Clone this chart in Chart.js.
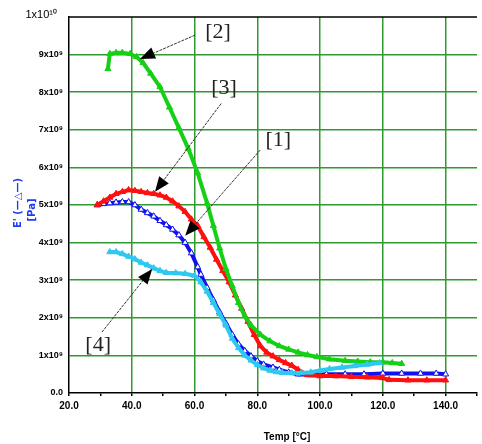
<!DOCTYPE html>
<html>
<head>
<meta charset="utf-8">
<script src="https://cdn.jsdelivr.net/npm/chart.js@4/dist/chart.umd.min.js"></script>
<style>
  html, body { margin: 0; padding: 0; background: #fff; }
  canvas { display: block; }
</style>
</head>
<body>
<canvas id="chart" width="482" height="444"></canvas>
<script>
// series: temperature [°C] and E' [x10^9 Pa]
const temp1 = [29, 31, 33, 35, 37, 39, 41, 43, 45, 47, 49, 51, 53, 55, 57, 59, 61, 62, 64, 66, 68, 70, 72, 74, 76, 78, 80, 82, 85, 87, 90, 93, 97, 102, 108, 114, 120, 126, 132, 137, 140];
const ePa1 = [5.0, 5.03, 5.05, 5.07, 5.08, 5.08, 5.0, 4.88, 4.79, 4.7, 4.58, 4.47, 4.35, 4.2, 4.0, 3.72, 3.35, 3.15, 2.8, 2.47, 2.15, 1.85, 1.55, 1.3, 1.12, 0.98, 0.85, 0.76, 0.68, 0.62, 0.55, 0.5, 0.48, 0.5, 0.5, 0.5, 0.52, 0.52, 0.52, 0.52, 0.5];

const temp2 = [32.4, 33, 35, 37, 39.5, 41.5, 43.6, 46, 49, 52, 55, 58, 61, 64, 66, 68, 70, 72, 74, 76, 78, 81, 84, 87, 90, 93, 96, 99, 103, 108, 112, 116, 120, 123, 126];
const ePa2 = [8.62, 9.02, 9.05, 9.05, 9.02, 8.94, 8.78, 8.5, 8.14, 7.6, 7.05, 6.5, 5.85, 5.05, 4.45, 3.85, 3.3, 2.85, 2.4, 2.05, 1.8, 1.55, 1.38, 1.25, 1.16, 1.08, 1.01, 0.96, 0.9, 0.86, 0.84, 0.82, 0.82, 0.8, 0.78];

const temp3 = [29, 31, 33, 35, 37, 39, 41, 43, 45, 47, 49, 51, 53, 55, 57, 59, 61, 63, 65, 67, 69, 71, 73, 75, 77, 79, 81, 83, 85, 87, 89, 91, 93, 96, 100, 105, 110, 115, 120, 122, 128, 134, 140];
const ePa3 = [5.0, 5.1, 5.2, 5.3, 5.35, 5.4, 5.38, 5.35, 5.32, 5.3, 5.26, 5.2, 5.1, 4.97, 4.82, 4.62, 4.45, 4.15, 3.87, 3.55, 3.25, 2.95, 2.6, 2.25, 1.9, 1.55, 1.25, 1.08, 0.98, 0.88, 0.8, 0.73, 0.62, 0.48, 0.45, 0.45, 0.43, 0.42, 0.4, 0.35, 0.34, 0.34, 0.34];

const temp4 = [33, 35, 37, 39, 41, 43, 45, 47, 49, 51, 54, 57, 60, 62, 64, 66, 68, 70, 72, 74, 76, 78, 80, 82, 84, 86, 88, 91, 94, 97, 100, 103, 107, 111, 115, 119];
const ePa4 = [3.75, 3.75, 3.7, 3.63, 3.56, 3.47, 3.4, 3.32, 3.25, 3.2, 3.19, 3.17, 3.12, 2.95, 2.7, 2.4, 2.1, 1.8, 1.45, 1.2, 1.0, 0.87, 0.75, 0.66, 0.6, 0.56, 0.54, 0.53, 0.53, 0.55, 0.6, 0.64, 0.68, 0.72, 0.76, 0.8];

const seriesNames = ['[1]', '[2]', '[3]', '[4]'];
const xTickValues = [20, 40, 60, 80, 100, 120, 140];

// annotation labels: text, label position, arrow tail, arrow tip (data units)
const labelText = ['[2]', '[3]', '[1]', '[4]'];
const labelAt = [[67.5, 9.6], [69.4, 8.1], [86.7, 6.73], [29.3, 1.28]];
const arrowFrom = [[60.2, 9.52], [68.5, 7.7], [80.9, 6.46], [30.5, 1.62]];
const arrowTo = [[42.6, 8.88], [47.4, 5.35], [57, 4.18], [46.5, 3.3]];

const GRID = '#2f9a2f';

function pairs(xs, ys) {
  return xs.map((x, i) => ({ x: x, y: ys[i] }));
}

function series(label, xs, ys, color, fill) {
  return {
    label: label,
    data: pairs(xs, ys),
    showLine: true,
    borderColor: color,
    borderWidth: 4,
    pointStyle: 'triangle',
    pointRadius: 3.5,
    pointBorderWidth: 1,
    pointBorderColor: color,
    pointBackgroundColor: fill,
    tension: 0
  };
}

// draws the top frame, axis texts and the [n] labels with arrows
const extras = {
  id: 'extras',
  afterDraw(chart) {
    const { ctx, chartArea, scales } = chart;
    const xs = scales.x, ys = scales.y;
    ctx.save();

    ctx.strokeStyle = '#000';
    ctx.lineWidth = 1.5;
    ctx.beginPath();
    ctx.moveTo(chartArea.left, chartArea.top);
    ctx.lineTo(chartArea.right, chartArea.top);
    ctx.stroke();

    // exponent label at the top left
    ctx.fillStyle = '#000';
    ctx.font = '11px Arial, "Liberation Sans"';
    ctx.textAlign = 'right';
    ctx.textBaseline = 'middle';
    ctx.fillText('1x10\u00B9\u2070', 57, 15);

    // x title
    ctx.font = 'bold 10px Arial, "Liberation Sans"';
    ctx.textAlign = 'center';
    ctx.fillText('Temp [\u00B0C]', 287, 437);

    // y title
    ctx.fillStyle = '#1f3df0';
    ctx.font = 'bold 10px "DejaVu Sans"';
    ctx.translate(18, 203);
    ctx.rotate(-Math.PI / 2);
    ctx.fillText("E' (\u2014\u25B3\u2014)", 0, 0);
    ctx.setTransform(1, 0, 0, 1, 0, 0);
    ctx.translate(32, 210);
    ctx.rotate(-Math.PI / 2);
    ctx.fillText('[Pa]', 0, 0);
    ctx.setTransform(1, 0, 0, 1, 0, 0);

    // labels and arrows
    ctx.font = '22px "Liberation Serif"';
    labelText.forEach((t, i) => {
      ctx.fillStyle = '#222';
      ctx.fillText(t, xs.getPixelForValue(labelAt[i][0]), ys.getPixelForValue(labelAt[i][1]));
      const x0 = xs.getPixelForValue(arrowFrom[i][0]), y0 = ys.getPixelForValue(arrowFrom[i][1]);
      const x1 = xs.getPixelForValue(arrowTo[i][0]), y1 = ys.getPixelForValue(arrowTo[i][1]);
      const a = Math.atan2(y1 - y0, x1 - x0);
      ctx.strokeStyle = '#333';
      ctx.lineWidth = 1;
      ctx.setLineDash([3, 1]);
      ctx.beginPath();
      ctx.moveTo(x0, y0);
      ctx.lineTo(x1 - 12 * Math.cos(a), y1 - 12 * Math.sin(a));
      ctx.stroke();
      ctx.setLineDash([]);
      ctx.fillStyle = '#000';
      ctx.beginPath();
      ctx.moveTo(x1, y1);
      ctx.lineTo(x1 - 15 * Math.cos(a) + 6 * Math.sin(a), y1 - 15 * Math.sin(a) - 6 * Math.cos(a));
      ctx.lineTo(x1 - 15 * Math.cos(a) - 6 * Math.sin(a), y1 - 15 * Math.sin(a) + 6 * Math.cos(a));
      ctx.closePath();
      ctx.fill();
    });
    ctx.restore();
  }
};

new Chart(document.getElementById('chart').getContext('2d'), {
  type: 'scatter',
  data: {
    datasets: [
      series(seriesNames[3], temp4, ePa4, '#2ec8f0', '#2ec8f0'),
      series(seriesNames[1], temp2, ePa2, '#16d016', '#16d016'),
      series(seriesNames[2], temp3, ePa3, '#ff1010', '#ff1010'),
      series(seriesNames[0], temp1, ePa1, '#1010f0', '#ffffff')
    ]
  },
  options: {
    responsive: false,
    animation: false,
    layout: { padding: { top: 17, right: 3, left: 0, bottom: 0 } },
    plugins: {
      legend: { display: false },
      tooltip: { enabled: false }
    },
    scales: {
      x: {
        type: 'linear',
        min: 20,
        max: 150,
        afterFit(scale) { scale.height = 51; },
        border: { color: '#000', width: 1.5 },
        grid: {
          color: (c) => (xTickValues.includes(c.tick.value) && c.tick.value > 20) ? GRID : 'rgba(0,0,0,0)',
          lineWidth: 1.5,
          tickColor: '#000',
          tickLength: 3
        },
        ticks: {
          stepSize: 10,
          autoSkip: false,
          maxRotation: 0,
          padding: 4,
          color: '#000',
          font: { family: 'Arial, "Liberation Sans"', size: 10, weight: 'bold' },
          callback: (v) => xTickValues.includes(v) ? v.toFixed(1) : ''
        }
      },
      y: {
        min: 0,
        max: 10,
        afterFit(scale) { scale.width = 69; },
        border: { color: '#000', width: 1.5 },
        grid: {
          color: (c) => (c.tick.value > 0 && c.tick.value < 10) ? GRID : 'rgba(0,0,0,0)',
          lineWidth: 1.5,
          drawTicks: false
        },
        ticks: {
          stepSize: 1,
          padding: 6,
          color: '#000',
          font: { family: 'Arial, "Liberation Sans"', size: 9, weight: 'bold' },
          callback: (v) => v === 0 ? '0.0' : (v === 10 ? '' : v + 'x10\u2079')
        }
      }
    }
  },
  plugins: [extras]
});
</script>
</body>
</html>
